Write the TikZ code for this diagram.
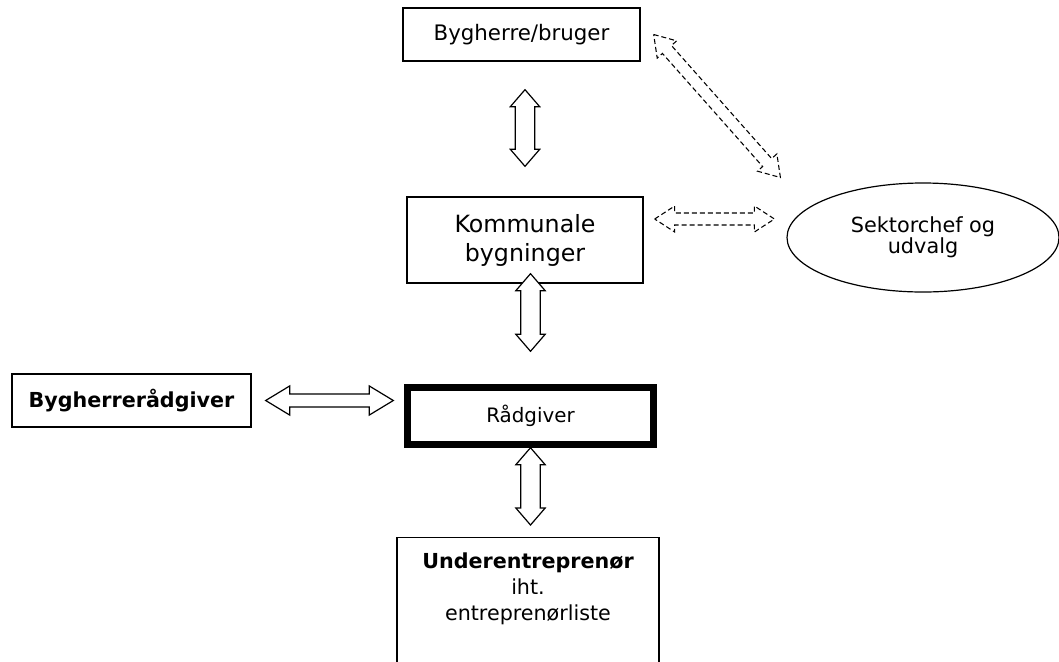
\documentclass[tikz,border=0pt]{standalone}
\usepackage{fontspec}
\setmainfont{DejaVu Sans}
\usetikzlibrary{calc,shapes.geometric}

\begin{document}
\begin{tikzpicture}[x=0.75pt,y=-0.75pt]
  \tikzset{box/.style={draw,line width=1pt,align=center,inner sep=0pt},
           blockarrow/.style n args={3}{draw,fill=white,line width=0.9pt,
             to path={let \p1=(\tikztostart),\p2=(\tikztotarget),
               \n1={atan2(\y2-\y1,\x2-\x1)},\n2={veclen(\x2-\x1,\y2-\y1)},\n3={\n2-#3pt} in
               [shift={(\p1)},rotate=\n1] (0pt,0pt) -- (#3pt,#2pt) -- (#3pt,#1pt) -- (\n3,#1pt) -- (\n3,#2pt)
               -- (\n2,0pt) -- (\n3,-#2pt) -- (\n3,-#1pt) -- (#3pt,-#1pt) -- (#3pt,-#2pt) -- cycle}},
           dasharrow/.style={blockarrow={4.5}{9.75}{15},dash pattern=on 3.75pt off 2.25pt,line width=0.8pt}}
  \path[use as bounding box,clip] (0,0) rectangle (1059,661);
  \node[box,minimum width=177.75pt,minimum height=39.75pt,font=\fontsize{16}{19}\selectfont] (user) at (521.5,34.5) {Bygherre/bruger};
  \node[box,minimum width=177pt,minimum height=64.5pt,font=\fontsize{17.8}{21.75}\selectfont] (kommunal) at (525,240) {Kommunale\\bygninger};
  \node[draw,ellipse,line width=0.9pt,minimum width=204pt,minimum height=81.75pt,inner sep=0pt,align=center,font=\fontsize{15.6}{15.75}\selectfont] (sektor) at (923,237.5) {Sektorchef og\\udvalg};
  \node[box,minimum width=179.25pt,minimum height=39.75pt,font=\fontsize{15.5}{19}\selectfont\bfseries] (bhr) at (131.5,400.5) {Bygherrerådgiver};
  \node[box,line width=4.8pt,minimum width=184.5pt,minimum height=42.75pt,font=\fontsize{14.9}{18}\selectfont] (raad) at (530.5,416) {Rådgiver};
  \node[box,anchor=north,minimum width=196.5pt,inner ysep=11pt,font=\fontsize{15.5}{19.5}\selectfont] (under) at (528,537) {\textbf{Underentreprenør}\\iht.\\entreprenørliste\\\rule{0pt}{60pt}};
  \draw[blockarrow={7.3}{11}{12.75}] ($(user.south -| kommunal.north)+(0,28)$) to ($(kommunal.north)+(0,-30)$);
  \draw[blockarrow={7.3}{11}{12.75}] ($(raad.north |- kommunal.south)+(0,-10)$) to ($(raad.north)+(0,-33)$);
  \draw[blockarrow={7.3}{11}{12.75}] (raad.south) to ($(raad.south |- under.north)+(0,-12)$);
  \draw[blockarrow={4.9}{10.9}{18}] ($(bhr.east)+(14,0)$) to ($(bhr.east -| raad.west)+(-11,0)$);
  \draw[dasharrow] ($(kommunal.east)+(11,-21)$) to ($(kommunal.east -| sektor.west)+(-12,-21)$);
  \draw[dasharrow] ($(user.east)+(13,0)$) to ($(sektor.west)+(-6,-60)$);
\end{tikzpicture}
\end{document}
